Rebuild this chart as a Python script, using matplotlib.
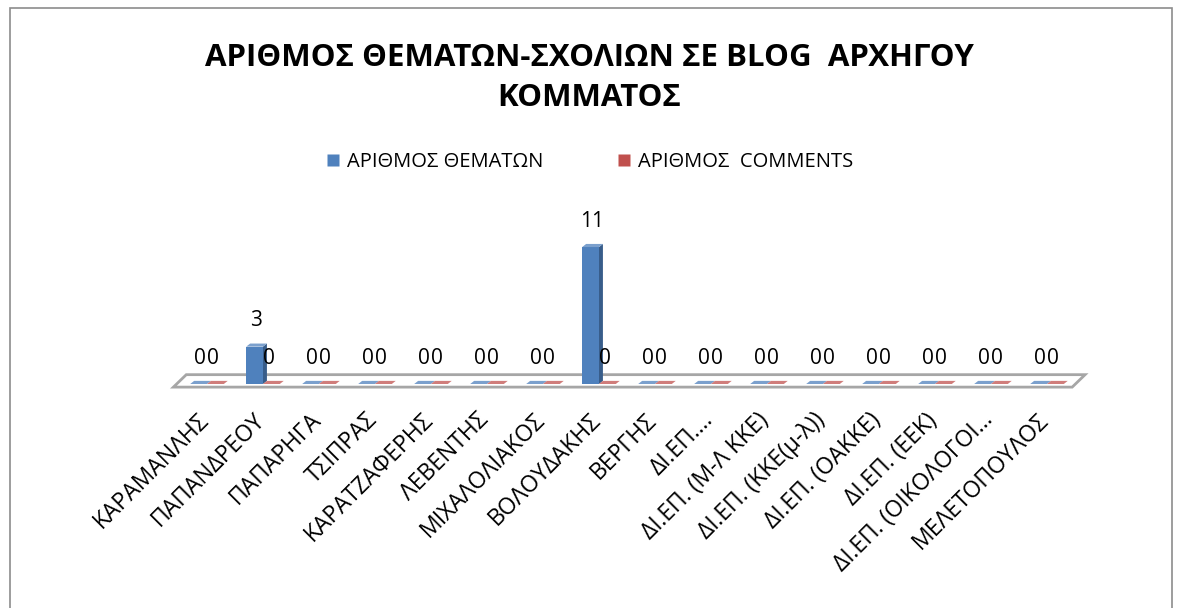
import numpy as np
import matplotlib
matplotlib.use("Agg")
import matplotlib.pyplot as plt
from matplotlib.patches import Polygon, Rectangle
from matplotlib.lines import Line2D

plt.rcParams['font.family'] = ['Open Sans', 'DejaVu Sans']

# data
leaders = ['ΚΑΡΑΜΑΝΛΗΣ', 'ΠΑΠΑΝΔΡΕΟΥ', 'ΠΑΠΑΡΗΓΑ', 'ΤΣΙΠΡΑΣ', 'ΚΑΡΑΤΖΑΦΕΡΗΣ',
           'ΛΕΒΕΝΤΗΣ', 'ΜΙΧΑΛΟΛΙΑΚΟΣ', 'ΒΟΛΟΥΔΑΚΗΣ', 'ΒΕΡΓΗΣ', 'ΔΙ.ΕΠ.…',
           'ΔΙ.ΕΠ. (Μ-Λ ΚΚΕ)', 'ΔΙ.ΕΠ. (ΚΚΕ(μ-λ))', 'ΔΙ.ΕΠ. (ΟΑΚΚΕ)', 'ΔΙ.ΕΠ. (ΕΕΚ)',
           'ΔΙ.ΕΠ. (ΟΙΚΟΛΟΓΟΙ…', 'ΜΕΛΕΤΟΠΟΥΛΟΣ']
topics = [0, 3, 0, 0, 0, 0, 0, 11, 0, 0, 0, 0, 0, 0, 0, 0]
comments = [0, 0, 0, 0, 0, 0, 0, 0, 0, 0, 0, 0, 0, 0, 0, 0]
series_names = ['ΑΡΙΘΜΟΣ ΘΕΜΑΤΩΝ', 'ΑΡΙΘΜΟΣ  COMMENTS']
title = 'ΑΡΙΘΜΟΣ ΘΕΜΑΤΩΝ-ΣΧΟΛΙΩΝ ΣΕ BLOG  ΑΡΧΗΓΟΥ\nΚΟΜΜΑΤΟΣ'

# colours (front, side, top)
blue = ('#4F81BD', '#385D8A', '#7BA0CD')
red = ('#C0504D', '#8C3836', '#D07D7B')

W, H = 1178, 608
fig = plt.figure(figsize=(W / 100, H / 100), dpi=100)

# outer chart border
fig.patches.append(Rectangle((10 / W, -0.01), 1162 / W, 1 - 8 / H + 0.01,
                             transform=fig.transFigure, fill=False,
                             edgecolor='#8c8c8c', linewidth=1.2))

ax = fig.add_axes([150 / W, 1 - 400 / H, 950 / W, 200 / H])
ax.set_xlim((150 - 207) / 56, (1100 - 207) / 56)
ax.set_ylim(-16 / 12.45, 184 / 12.45)
for s in ax.spines.values():
    s.set_visible(False)
ax.set_yticks([])

n = len(leaders)
x = np.arange(n)
bw = 0.3
ddx, ddy = 0.07, 0.25      # depth of the bars
fdx, fdy = 0.23, 1.0       # depth of the floor

# floor
f0, f1, fy = -0.6, n - 0.55, -0.25
ax.add_patch(Polygon([(f0, fy), (f1, fy), (f1 + fdx, fy + fdy), (f0 + fdx, fy + fdy)],
                     closed=True, facecolor='white', edgecolor='#a6a6a6',
                     linewidth=2, zorder=1))


def bar3d(x0, h, cols):
    x1 = x0 + bw
    ax.add_patch(Polygon([(x0, 0), (x1, 0), (x1, h), (x0, h)],
                         facecolor=cols[0], edgecolor='none', zorder=3))
    ax.add_patch(Polygon([(x1, 0), (x1 + ddx, ddy), (x1 + ddx, h + ddy), (x1, h)],
                         facecolor=cols[1], edgecolor='none', zorder=3))
    ax.add_patch(Polygon([(x0, h), (x1, h), (x1 + ddx, h + ddy), (x0 + ddx, h + ddy)],
                         facecolor=cols[2], edgecolor='none', zorder=3))


for xi, t, c in zip(x, topics, comments):
    bar3d(xi - bw, t, blue)
    bar3d(xi, c, red)
    ax.annotate(str(t), (xi - bw / 2 + 0.02, t), xytext=(0, 26), textcoords='offset pixels',
                ha='center', va='center', fontsize=15)
    ax.annotate(str(c), (xi + bw / 2 - 0.05, c), xytext=(0, 26), textcoords='offset pixels',
                ha='center', va='center', fontsize=15)

ax.set_xticks(x - 0.18)
ax.set_xticklabels(leaders, rotation=45, ha='right', rotation_mode='anchor', fontsize=16.5)
ax.tick_params(axis='x', length=0, pad=6)

fig.text(0.5, 1 - 78 / H, title, ha='center', va='center', fontsize=22.5,
         fontweight='bold', linespacing=1.4)

handles = [Line2D([], [], marker='s', linestyle='none', markersize=9,
                  markerfacecolor=blue[0], markeredgecolor='none'),
           Line2D([], [], marker='s', linestyle='none', markersize=9,
                  markerfacecolor=red[0], markeredgecolor='none')]
fig.legend(handles, series_names, loc='center', bbox_to_anchor=(0.5, 1 - 162 / H),
           ncol=2, frameon=False, fontsize=14.5, handlelength=0.8, handletextpad=0.3,
           columnspacing=3.6)

fig.savefig('out.png', dpi=100)
